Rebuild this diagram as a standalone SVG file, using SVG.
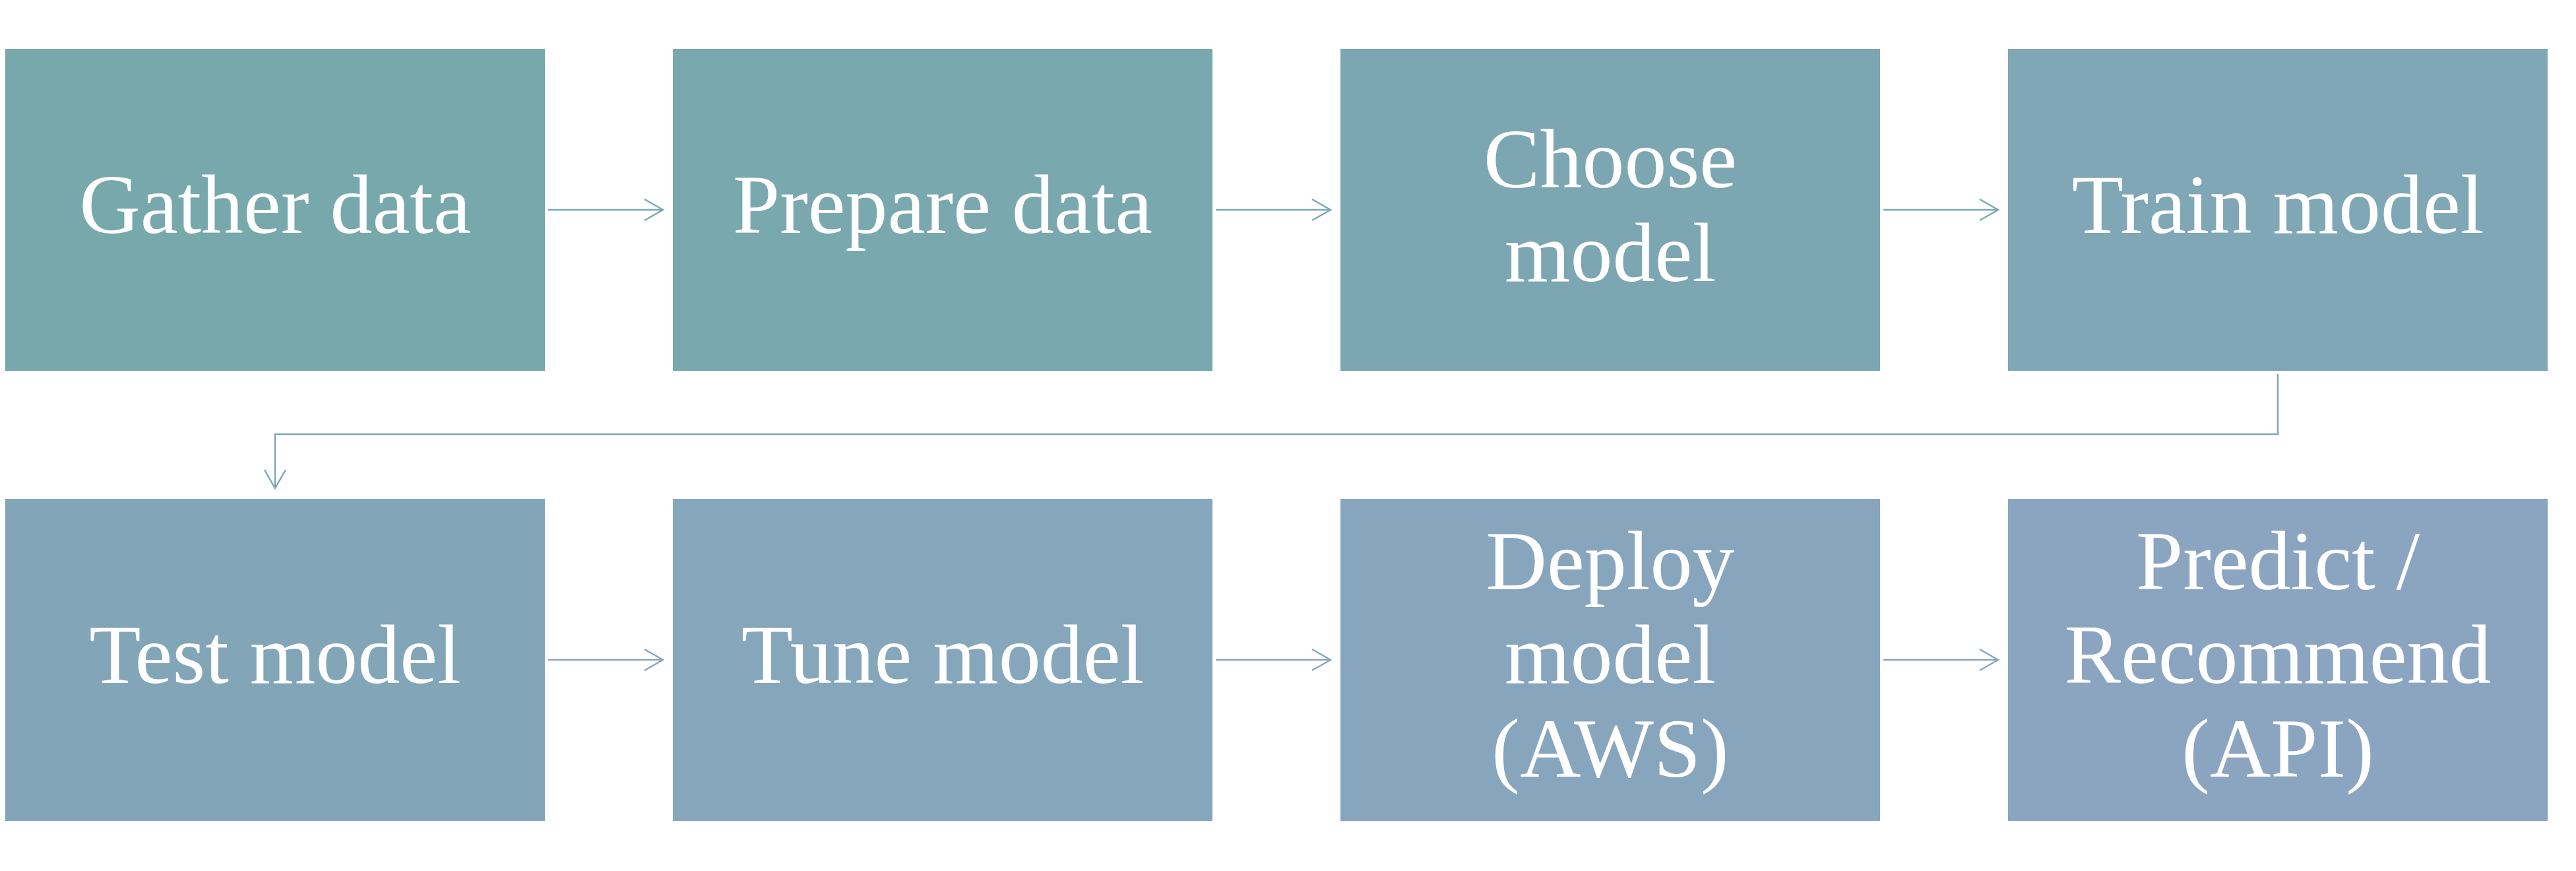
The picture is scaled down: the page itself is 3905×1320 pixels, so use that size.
<svg xmlns="http://www.w3.org/2000/svg" width="3905" height="1320" viewBox="0 0 3905 1320">
<style>
.lbl{font-family:"Liberation Serif","Times New Roman",serif;font-size:128px;fill:#FFFFFF;text-anchor:middle}
.c1{fill:none;stroke:#7AA8B0;stroke-width:2.5}
.c2{fill:none;stroke:#86A6BC;stroke-width:2.5}
</style>
<defs>
<marker id="ah1" viewBox="0 0 31 36" refX="29" refY="18" markerWidth="31" markerHeight="36" markerUnits="userSpaceOnUse" orient="auto">
<path d="M1,2 L29,18 L1,34" fill="none" stroke="#7AA8B0" stroke-width="2.5"/>
</marker>
<marker id="ah2" viewBox="0 0 31 36" refX="29" refY="18" markerWidth="31" markerHeight="36" markerUnits="userSpaceOnUse" orient="auto">
<path d="M1,2 L29,18 L1,34" fill="none" stroke="#86A6BC" stroke-width="2.5"/>
</marker>
<marker id="ahv" viewBox="0 0 31 36" refX="29" refY="18" markerWidth="31" markerHeight="36" markerUnits="userSpaceOnUse" orient="auto">
<path d="M1,2 L29,18 L1,34" fill="none" stroke="#80A7B6" stroke-width="2.5"/>
</marker>
</defs>
<rect width="3905" height="1320" fill="#FFFFFF"/>
<g id="connectors">
<path class="c1" d="M831,318 H1005" marker-end="url(#ah1)"/>
<path class="c1" d="M1843,318 H2017" marker-end="url(#ah1)"/>
<path class="c1" d="M2855,318 H3029" marker-end="url(#ah1)"/>
<path d="M3453,567 V658 H417 V740" fill="none" stroke="#80A7B6" stroke-width="2.5" marker-end="url(#ahv)"/>
<path class="c2" d="M831,1000 H1005" marker-end="url(#ah2)"/>
<path class="c2" d="M1843,1000 H2017" marker-end="url(#ah2)"/>
<path class="c2" d="M2855,1000 H3029" marker-end="url(#ah2)"/>
</g>
<g id="gather-data">
<rect x="8" y="74" width="818" height="488" fill="#76A8AC"/>
<text class="lbl" x="417" y="353">Gather data</text>
</g>
<g id="prepare-data">
<rect x="1020" y="74" width="818" height="488" fill="#79A8AF"/>
<text class="lbl" x="1429" y="353">Prepare data</text>
</g>
<g id="choose-model">
<rect x="2032" y="74" width="818" height="488" fill="#7CA7B2"/>
<text class="lbl" x="2441" y="284">Choose<tspan x="2441" dy="142">model</tspan></text>
</g>
<g id="train-model">
<rect x="3044" y="74" width="818" height="488" fill="#7FA7B5"/>
<text class="lbl" x="3453" y="353">Train model</text>
</g>
<g id="test-model">
<rect x="8" y="756" width="818" height="488" fill="#82A6B8"/>
<text class="lbl" x="417" y="1035">Test model</text>
</g>
<g id="tune-model">
<rect x="1020" y="756" width="818" height="488" fill="#85A6BB"/>
<text class="lbl" x="1429" y="1035">Tune model</text>
</g>
<g id="deploy-model">
<rect x="2032" y="756" width="818" height="488" fill="#88A5BE"/>
<text class="lbl" x="2441" y="893">Deploy<tspan x="2441" dy="142">model</tspan><tspan x="2441" dy="142">(AWS)</tspan></text>
</g>
<g id="predict-recommend">
<rect x="3044" y="756" width="818" height="488" fill="#8BA5C1"/>
<text class="lbl" x="3453" y="893">Predict /<tspan x="3453" dy="142">Recommend</tspan><tspan x="3453" dy="142">(API)</tspan></text>
</g>
</svg>
